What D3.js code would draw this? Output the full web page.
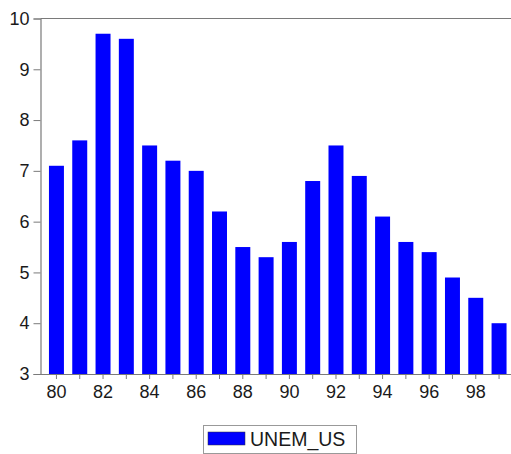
<!DOCTYPE html>
<html><head><meta charset="utf-8">
<script src="https://cdn.jsdelivr.net/npm/d3@7"></script>
<style>body{margin:0;background:#fff}svg{display:block}text{font-family:"Liberation Sans",Arial,sans-serif}</style>
</head><body>
<svg id="c" width="511" height="454"></svg>
<script>
const years = ["80","81","82","83","84","85","86","87","88","89","90","91","92","93","94","95","96","97","98","99"];
const unemUS = [7.1,7.6,9.7,9.6,7.5,7.2,7.0,6.2,5.5,5.3,5.6,6.8,7.5,6.9,6.1,5.6,5.4,4.9,4.5,4.0];
const yTicks = [3,4,5,6,7,8,9,10];
const xTickLabels = ["80","82","84","86","88","90","92","94","96","98"];
const seriesName = "UNEM_US";

const svg = d3.select("#c");
const L = 40.5, R = 515, T = 18.5, B = 374;
const x = d3.scaleBand().domain(years).range([L, R]).paddingInner(0.357).paddingOuter(0.363);
const y = d3.scaleLinear().domain([3, 10]).range([B, T]);
const axisCol = "#7a7a7a";

svg.append("g").selectAll("rect").data(unemUS).join("rect")
  .attr("x", (d,i) => x(years[i]))
  .attr("width", x.bandwidth())
  .attr("y", d => y(d))
  .attr("height", d => y(3) - y(d))
  .attr("fill", "#0000ff");

svg.append("line").attr("x1", L).attr("x2", 511).attr("y1", T).attr("y2", T)
  .attr("stroke", axisCol).attr("stroke-width", 1.2);

const yAxis = svg.append("g").attr("transform", `translate(${L},0)`)
  .call(d3.axisLeft(y).tickValues(yTicks).tickSize(7).tickPadding(4).tickFormat(d3.format("d")));
const xAxis = svg.append("g").attr("transform", `translate(0,${B})`)
  .call(d3.axisBottom(x).tickValues(years).tickSize(5).tickPadding(6)
    .tickFormat(d => xTickLabels.includes(d) ? d : ""));
[yAxis, xAxis].forEach(g => {
  g.select(".domain").attr("stroke", axisCol).attr("stroke-width", 1.2);
  g.selectAll(".tick line").attr("stroke", axisCol);
  g.selectAll("text").attr("fill", "#1a1a1a").style("font-size", "18px")
    .style("font-family", '"Liberation Sans", Arial, sans-serif');
});
xAxis.select(".domain").attr("d", `M${L},0.5H511`);

const lg = svg.append("g");
lg.append("rect").attr("x", 203.5).attr("y", 425.5).attr("width", 153).attr("height", 28)
  .attr("fill", "#fff").attr("stroke", "#999");
lg.append("rect").attr("x", 208).attr("y", 432).attr("width", 37).attr("height", 13)
  .attr("fill", "#0000ff").attr("stroke", "#333").attr("stroke-width", 0.5);
lg.append("text").attr("x", 250).attr("y", 446).text(seriesName)
  .style("font-size", "19.5px").attr("fill", "#1a1a1a");
</script>
</body></html>
